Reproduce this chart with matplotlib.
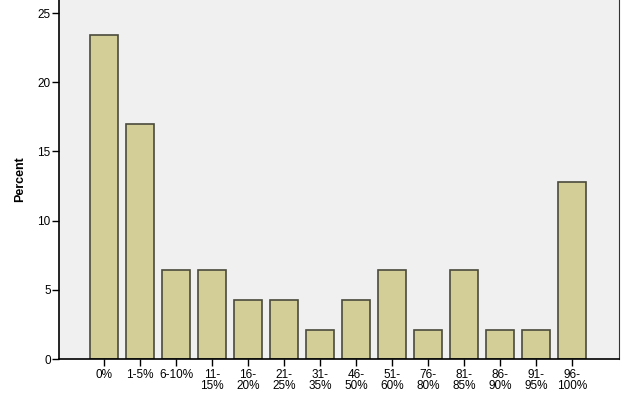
import matplotlib.pyplot as plt

plt.rcParams['font.family'] = ['Liberation Sans', 'DejaVu Sans']

categories = ['0%', '1-5%', '6-10%', '11-\n15%', '16-\n20%', '21-\n25%', '31-\n35%',
              '46-\n50%', '51-\n60%', '76-\n80%', '81-\n85%', '86-\n90%', '91-\n95%', '96-\n100%']
percent = [23.4, 17.0, 6.4, 6.4, 4.3, 4.3, 2.1, 4.3, 6.4, 2.1, 6.4, 2.1, 2.1, 12.8]

fig = plt.figure(figsize=(6.25, 3.94), dpi=100)
ax = fig.add_axes([0.0944, 0.0888, 0.8956, 0.9112])
ax.set_facecolor('#F0F0F0')

x = range(len(categories))
ax.bar(x, percent, width=0.77, color='#D3CE97', edgecolor='#4B4A3C', linewidth=1.2, zorder=2)

ax.set_xlim(-1.25, 14.3)
ax.set_ylim(0, 25.94)
ax.set_yticks([0, 5, 10, 15, 20, 25])
ax.set_xticks(list(x))
ax.set_xticklabels(categories, fontsize=8.5, linespacing=0.95)
ax.tick_params(axis='y', labelsize=8.5, length=5, width=1, pad=1)
ax.tick_params(axis='x', length=5, width=1, pad=2)

ax.spines['top'].set_visible(False)
ax.spines['right'].set_color('#333333')
for s in ['left', 'bottom']:
    ax.spines[s].set_linewidth(1.2)

ax.set_ylabel('Percent', fontsize=9, fontweight='bold', labelpad=8)

fig.savefig('out.png', dpi=100)
